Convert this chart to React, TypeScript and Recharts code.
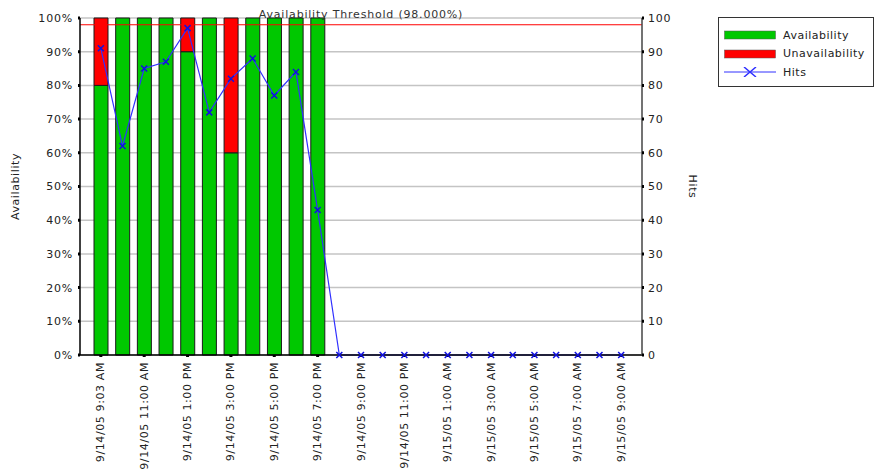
import React from "react";
import { ComposedChart, Bar, Line, XAxis, YAxis, CartesianGrid, ReferenceLine, Legend } from "recharts";

// hourly samples, 9:03 AM on 9/14 through 9:00 AM on 9/15
const timeLabels = [
  "9/14/05 9:03 AM", "9/14/05 10:00 AM", "9/14/05 11:00 AM", "9/14/05 12:00 PM",
  "9/14/05 1:00 PM", "9/14/05 2:00 PM", "9/14/05 3:00 PM", "9/14/05 4:00 PM",
  "9/14/05 5:00 PM", "9/14/05 6:00 PM", "9/14/05 7:00 PM", "9/14/05 8:00 PM",
  "9/14/05 9:00 PM", "9/14/05 10:00 PM", "9/14/05 11:00 PM", "9/15/05 12:00 AM",
  "9/15/05 1:00 AM", "9/15/05 2:00 AM", "9/15/05 3:00 AM", "9/15/05 4:00 AM",
  "9/15/05 5:00 AM", "9/15/05 6:00 AM", "9/15/05 7:00 AM", "9/15/05 8:00 AM",
  "9/15/05 9:00 AM",
];

const availability: (number | null)[] = [
  80, 100, 100, 100, 90, 100, 60, 100, 100, 100, 100,
  null, null, null, null, null, null, null, null, null, null, null, null, null, null,
];

const hits = [91, 62, 85, 87, 97, 72, 82, 88, 77, 84, 43, 0, 0, 0, 0, 0, 0, 0, 0, 0, 0, 0, 0, 0, 0];

const percentTicks = [0, 10, 20, 30, 40, 50, 60, 70, 80, 90, 100];
const hitTicks = [0, 10, 20, 30, 40, 50, 60, 70, 80, 90, 100];
const threshold = 98;

const FONT = "'DejaVu Sans', Verdana, sans-serif";
const GREEN = "#00c800";
const RED = "#ff0000";
const BLUE = "#3030ff";

const data = timeLabels.map((time, i) => ({
  time,
  avail: availability[i],
  unavail: availability[i] == null ? null : 100 - (availability[i] as number),
  hits: hits[i],
}));

const XTick = (props: any) => {
  const { x, y, payload } = props;
  return (
    <text
      x={x}
      y={y}
      transform={`rotate(-90, ${x}, ${y})`}
      textAnchor="end"
      dominantBaseline="central"
      fontFamily={FONT}
      fontSize={11}
      letterSpacing={0.6}
      fill="#222"
    >
      {payload.value}
    </text>
  );
};

const Cross = (props: any) => {
  const { cx, cy, index } = props;
  if (cx == null || cy == null) return <g key={index} />;
  return (
    <path
      key={index}
      d={`M${cx - 3},${cy - 3}L${cx + 3},${cy + 3}M${cx - 3},${cy + 3}L${cx + 3},${cy - 3}`}
      stroke="#1010e0"
      strokeWidth={1.5}
      fill="none"
    />
  );
};

const legendItems = [
  { name: "Availability", color: GREEN, kind: "rect" },
  { name: "Unavailability", color: RED, kind: "rect" },
  { name: "Hits", color: BLUE, kind: "line" },
];

const renderLegend = () => (
  <div
    style={{
      border: "1px solid #333",
      width: 156,
      height: 70,
      boxSizing: "border-box",
      padding: "8px 0 0 5px",
      fontFamily: FONT,
      fontSize: 11,
      letterSpacing: 0.5,
      color: "#222",
      background: "#fff",
    }}
  >
    {legendItems.map((item) => (
      <div key={item.name} style={{ display: "flex", alignItems: "center", height: 18.5 }}>
        <svg width={52} height={10} style={{ marginRight: 7 }}>
          {item.kind === "rect" ? (
            <rect x={0.5} y={1} width={51} height={8} fill={item.color} stroke="#555" strokeWidth={0.5} />
          ) : (
            <g>
              <line x1={0} y1={5} x2={52} y2={5} stroke={item.color} strokeWidth={1} />
              <path d="M20,0L32,10M20,10L32,0" stroke={item.color} strokeWidth={1.5} />
            </g>
          )}
        </svg>
        <span>{item.name}</span>
      </div>
    ))}
  </div>
);

const App: React.FC = () => {
  return (
    <div style={{ position: "absolute", left: 0, top: 0, background: "#fff" }}>
      <ComposedChart
        width={874}
        height={476}
        data={data}
        margin={{ top: 18, right: 182, bottom: 6, left: 20 }}
        barCategoryGap={0}
      >
        <CartesianGrid yAxisId="left" vertical={false} stroke="#c4c4c4" strokeWidth={1.5} />
        <XAxis
          dataKey="time"
          interval={1}
          height={115}
          padding={{ left: 10, right: 10 }}
          tick={<XTick />}
          tickSize={2}
          tickMargin={5}
          tickLine={{ stroke: "#000", strokeWidth: 3 }}
          axisLine={{ stroke: "#000", strokeWidth: 1.5 }}
          yAxisId="left"
        />
        <YAxis
          yAxisId="left"
          domain={[0, 100]}
          ticks={percentTicks}
          tickFormatter={(v: number) => `${v}%`}
          width={60}
          tickSize={2}
          tickMargin={5}
          tickLine={{ stroke: "#000", strokeWidth: 3 }}
          axisLine={{ stroke: "#000", strokeWidth: 1.5 }}
          tick={{ fontFamily: FONT, fontSize: 11, fill: "#222", letterSpacing: 0.8 }}
          label={{
            content: ({ viewBox }: any) => (
              <text
                x={viewBox.x - 5}
                y={viewBox.y + viewBox.height / 2}
                transform={`rotate(-90, ${viewBox.x - 5}, ${viewBox.y + viewBox.height / 2})`}
                textAnchor="middle"
                dominantBaseline="central"
                fontFamily={FONT}
                fontSize={11}
                letterSpacing={0.6}
                fill="#222"
              >
                Availability
              </text>
            ),
          }}
        />
        <YAxis
          yAxisId="right"
          orientation="right"
          domain={[0, 100]}
          ticks={hitTicks}
          width={50}
          tickSize={2}
          tickMargin={4}
          tickLine={{ stroke: "#000", strokeWidth: 3 }}
          axisLine={{ stroke: "#444", strokeWidth: 1.5 }}
          tick={{ fontFamily: FONT, fontSize: 11, fill: "#222", letterSpacing: 0.8 }}
          label={{
            content: ({ viewBox }: any) => (
              <text
                x={viewBox.x + viewBox.width}
                y={viewBox.y + viewBox.height / 2}
                transform={`rotate(90, ${viewBox.x + viewBox.width}, ${viewBox.y + viewBox.height / 2})`}
                textAnchor="middle"
                dominantBaseline="central"
                fontFamily={FONT}
                fontSize={11}
                letterSpacing={0.6}
                fill="#222"
              >
                Hits
              </text>
            ),
          }}
        />
        <Bar dataKey="avail" name="Availability" stackId="a" yAxisId="left" fill={GREEN} stroke="#1a1a1a" strokeWidth={1} barSize={14} isAnimationActive={false} />
        <Bar dataKey="unavail" name="Unavailability" stackId="a" yAxisId="left" fill={RED} stroke="#1a1a1a" strokeWidth={1} barSize={14} isAnimationActive={false} />
        <ReferenceLine
          yAxisId="left"
          y={threshold}
          stroke={RED}
          strokeWidth={1.2}
          label={{
            value: "Availability Threshold (98.000%)",
            position: "top",
            offset: 7,
            fontFamily: FONT,
            fontSize: 11,
            letterSpacing: 0.8,
            fill: "#333",
          }}
        />
        <Line
          dataKey="hits"
          name="Hits"
          yAxisId="right"
          type="linear"
          stroke={BLUE}
          strokeWidth={1.2}
          dot={Cross}
          activeDot={false}
          isAnimationActive={false}
        />
        <Legend
          layout="vertical"
          align="center"
          verticalAlign="middle"
          content={renderLegend}
          wrapperStyle={{ position: "absolute", left: 718, top: 17, width: 156, height: 70 }}
        />
      </ComposedChart>
    </div>
  );
};

export default App;
